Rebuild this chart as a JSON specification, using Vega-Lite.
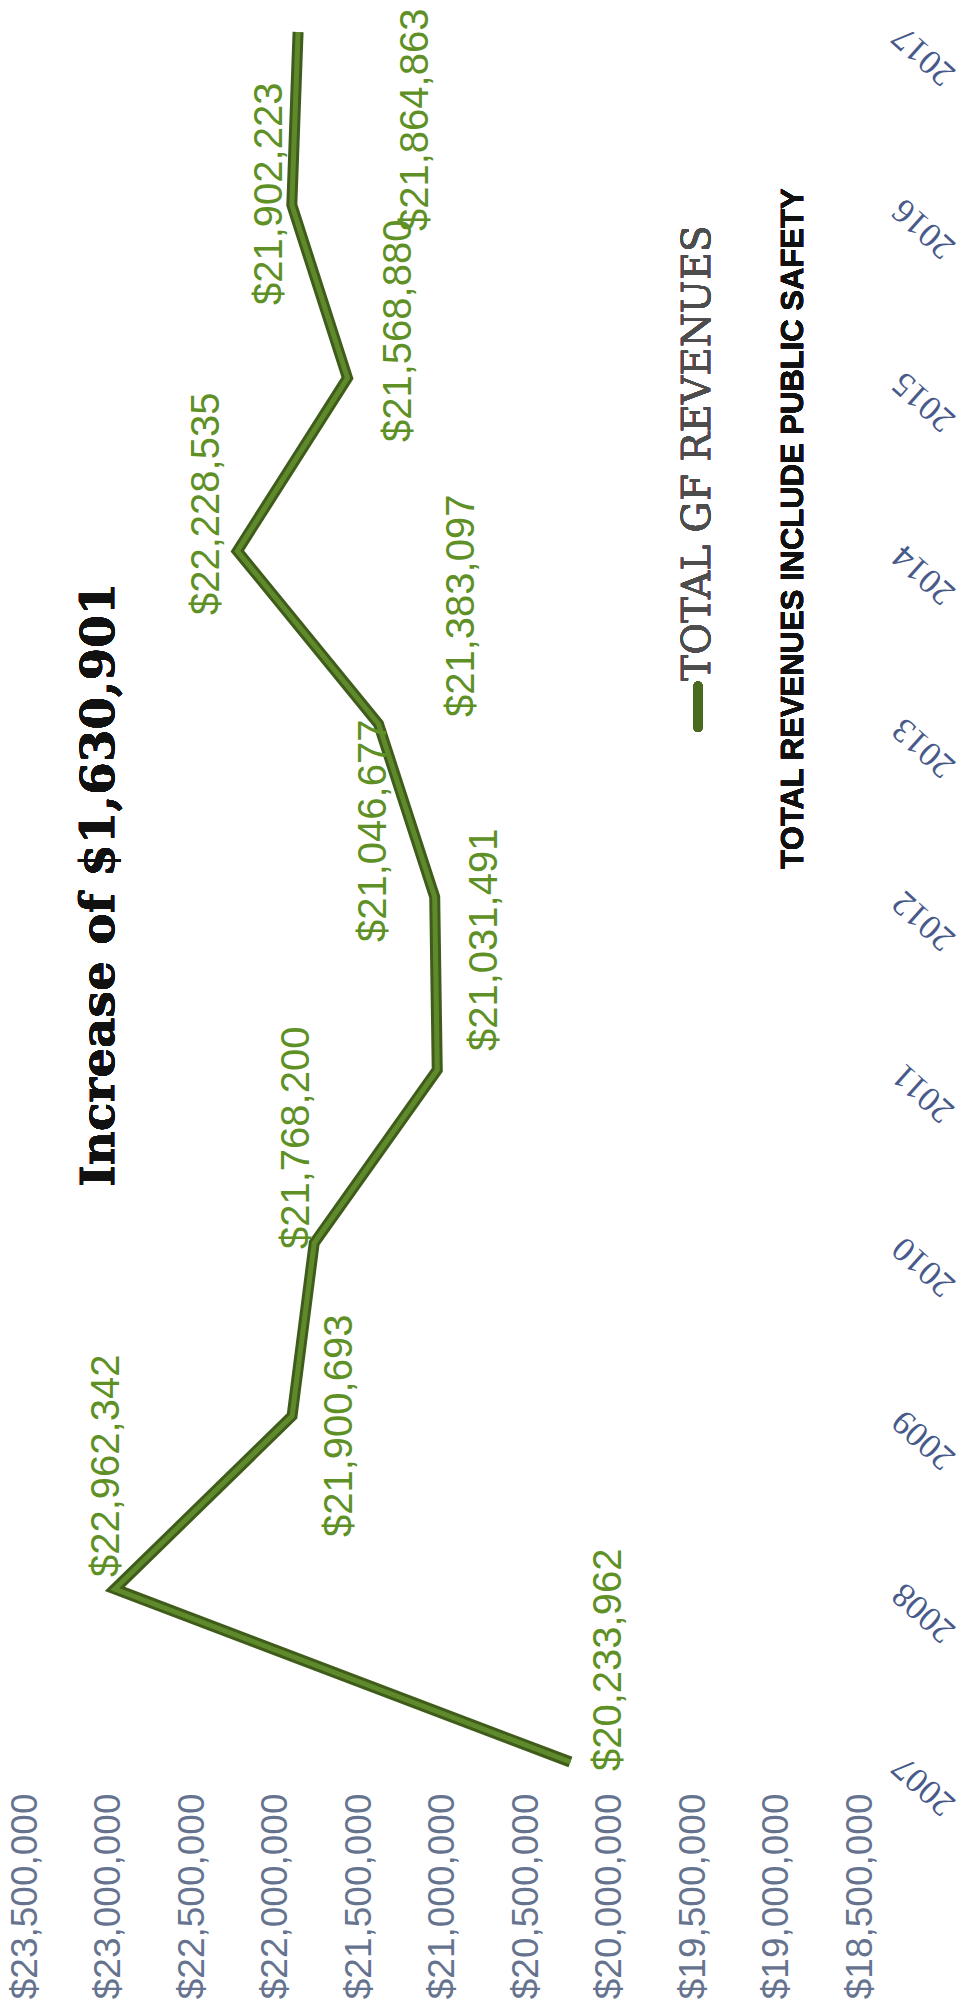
{
  "$schema": "https://vega.github.io/schema/vega-lite/v6.json",
  "width": 835,
  "height": 1730,
  "autosize": {"type": "none"},
  "padding": {"left": 25, "top": 32, "right": 106, "bottom": 247},
  "background": "white",
  "config": {"view": {"stroke": null}},
  "data": {
    "values": [
      {"year": 2007, "revenue": 20233962},
      {"year": 2008, "revenue": 22962342},
      {"year": 2009, "revenue": 21900693},
      {"year": 2010, "revenue": 21768200},
      {"year": 2011, "revenue": 21031491},
      {"year": 2012, "revenue": 21046677},
      {"year": 2013, "revenue": 21383097},
      {"year": 2014, "revenue": 22228535},
      {"year": 2015, "revenue": 21568880},
      {"year": 2016, "revenue": 21902223},
      {"year": 2017, "revenue": 21864863}
    ]
  },
  "encoding": {
    "x": {
      "field": "revenue",
      "type": "quantitative",
      "scale": {"domain": [18500000, 23500000], "reverse": true, "nice": false, "zero": false},
      "axis": {
        "orient": "bottom",
        "values": [18500000, 19000000, 19500000, 20000000, 20500000, 21000000, 21500000, 22000000, 22500000, 23000000, 23500000],
        "format": "$,d",
        "labelAngle": 270,
        "labelAlign": "right",
        "labelBaseline": "middle",
        "labelPadding": 31,
        "labelFont": "Liberation Sans",
        "labelFontSize": 37,
        "labelColor": "#65738f",
        "labelLimit": 0,
        "domain": false,
        "ticks": false,
        "grid": false,
        "title": null,
        "labelFlush": false,
        "labelOverlap": false,
        "labelBound": false
      }
    },
    "y": {
      "field": "year",
      "type": "quantitative",
      "scale": {"domain": [2007, 2017], "nice": false, "zero": false},
      "axis": {
        "orient": "right",
        "values": [2007, 2008, 2009, 2010, 2011, 2012, 2013, 2014, 2015, 2016, 2017],
        "format": "d",
        "labelAngle": 222,
        "labelAlign": "right",
        "labelBaseline": "middle",
        "labelPadding": 37,
        "labelFont": "Liberation Serif",
        "labelFontSize": 35,
        "labelColor": "#485a8a",
        "labelLimit": 0,
        "domain": false,
        "ticks": false,
        "grid": false,
        "title": null,
        "labelFlush": false,
        "labelOverlap": false,
        "labelBound": false
      }
    }
  },
  "layer": [
    {"mark": {"type": "line", "stroke": "#3f5c1b", "strokeWidth": 11, "strokeJoin": "miter", "strokeCap": "butt"}, "encoding": {"order": {"field": "year", "type": "quantitative"}}},
    {"mark": {"type": "line", "stroke": "#5f8a2c", "strokeWidth": 5, "strokeJoin": "miter", "strokeCap": "butt"}, "encoding": {"order": {"field": "year", "type": "quantitative"}}},
    {"transform": [{"filter": "datum.year == 2007"}], "mark": {"type": "text", "angle": 270, "align": "left", "baseline": "middle", "dx": -9, "dy": 39, "font": "Liberation Sans", "fontSize": 40, "fill": "#5e9026"}, "encoding": {"text": {"field": "revenue", "format": "$,d"}}},
    {"transform": [{"filter": "datum.year == 2008"}], "mark": {"type": "text", "angle": 270, "align": "left", "baseline": "middle", "dx": 12, "dy": -8, "font": "Liberation Sans", "fontSize": 40, "fill": "#5e9026"}, "encoding": {"text": {"field": "revenue", "format": "$,d"}}},
    {"transform": [{"filter": "datum.year == 2009"}], "mark": {"type": "text", "angle": 270, "align": "left", "baseline": "middle", "dx": -121, "dy": 48, "font": "Liberation Sans", "fontSize": 40, "fill": "#5e9026"}, "encoding": {"text": {"field": "revenue", "format": "$,d"}}},
    {"transform": [{"filter": "datum.year == 2010"}], "mark": {"type": "text", "angle": 270, "align": "left", "baseline": "middle", "dx": -6, "dy": -17, "font": "Liberation Sans", "fontSize": 40, "fill": "#5e9026"}, "encoding": {"text": {"field": "revenue", "format": "$,d"}}},
    {"transform": [{"filter": "datum.year == 2011"}], "mark": {"type": "text", "angle": 270, "align": "left", "baseline": "middle", "dx": 19, "dy": 48, "font": "Liberation Sans", "fontSize": 40, "fill": "#5e9026"}, "encoding": {"text": {"field": "revenue", "format": "$,d"}}},
    {"transform": [{"filter": "datum.year == 2012"}], "mark": {"type": "text", "angle": 270, "align": "left", "baseline": "middle", "dx": -45, "dy": -61, "font": "Liberation Sans", "fontSize": 40, "fill": "#5e9026"}, "encoding": {"text": {"field": "revenue", "format": "$,d"}}},
    {"transform": [{"filter": "datum.year == 2013"}], "mark": {"type": "text", "angle": 270, "align": "left", "baseline": "middle", "dx": 7, "dy": 83, "font": "Liberation Sans", "fontSize": 40, "fill": "#5e9026"}, "encoding": {"text": {"field": "revenue", "format": "$,d"}}},
    {"transform": [{"filter": "datum.year == 2014"}], "mark": {"type": "text", "angle": 270, "align": "left", "baseline": "middle", "dx": -64, "dy": -30, "font": "Liberation Sans", "fontSize": 40, "fill": "#5e9026"}, "encoding": {"text": {"field": "revenue", "format": "$,d"}}},
    {"transform": [{"filter": "datum.year == 2015"}], "mark": {"type": "text", "angle": 270, "align": "left", "baseline": "middle", "dx": -64, "dy": 52, "font": "Liberation Sans", "fontSize": 40, "fill": "#5e9026"}, "encoding": {"text": {"field": "revenue", "format": "$,d"}}},
    {"transform": [{"filter": "datum.year == 2016"}], "mark": {"type": "text", "angle": 270, "align": "left", "baseline": "middle", "dx": -100, "dy": -22, "font": "Liberation Sans", "fontSize": 40, "fill": "#5e9026"}, "encoding": {"text": {"field": "revenue", "format": "$,d"}}},
    {"transform": [{"filter": "datum.year == 2017"}], "mark": {"type": "text", "angle": 270, "align": "left", "baseline": "middle", "dx": -199, "dy": 118, "font": "Liberation Sans", "fontSize": 40, "fill": "#5e9026"}, "encoding": {"text": {"field": "revenue", "format": "$,d"}}},
    {
      "mark": {"type": "text", "angle": 270, "align": "center", "baseline": "middle", "font": "DejaVu Serif", "fontWeight": "bold", "fontSize": 47, "fill": "#111111"},
      "encoding": {
        "x": {"datum": 23050000, "type": "quantitative"},
        "y": {"datum": 2012.07, "type": "quantitative"},
        "text": {"value": "Increase of $1,630,901"}
      }
    },
    {
      "mark": {"type": "rule", "stroke": "#4a6a20", "strokeWidth": 9, "strokeCap": "round"},
      "encoding": {
        "x": {"datum": 19470000, "type": "quantitative"},
        "y": {"datum": 2013.22, "type": "quantitative"},
        "y2": {"datum": 2012.98}
      }
    },
    {
      "mark": {"type": "text", "angle": 270, "align": "left", "baseline": "middle", "font": "DejaVu Serif", "fontSize": 39, "fill": "#4d4d4d"},
      "encoding": {
        "x": {"datum": 19470000, "type": "quantitative"},
        "y": {"datum": 2013.25, "type": "quantitative"},
        "text": {"value": "TOTAL GF REVENUES"}
      }
    },
    {
      "mark": {"type": "text", "angle": 270, "align": "center", "baseline": "middle", "font": "Liberation Sans", "fontWeight": "bold", "fontSize": 31, "fill": "#111111"},
      "encoding": {
        "x": {"datum": 18895000, "type": "quantitative"},
        "y": {"datum": 2014.13, "type": "quantitative"},
        "text": {"value": "TOTAL REVENUES INCLUDE PUBLIC SAFETY"}
      }
    }
  ]
}
